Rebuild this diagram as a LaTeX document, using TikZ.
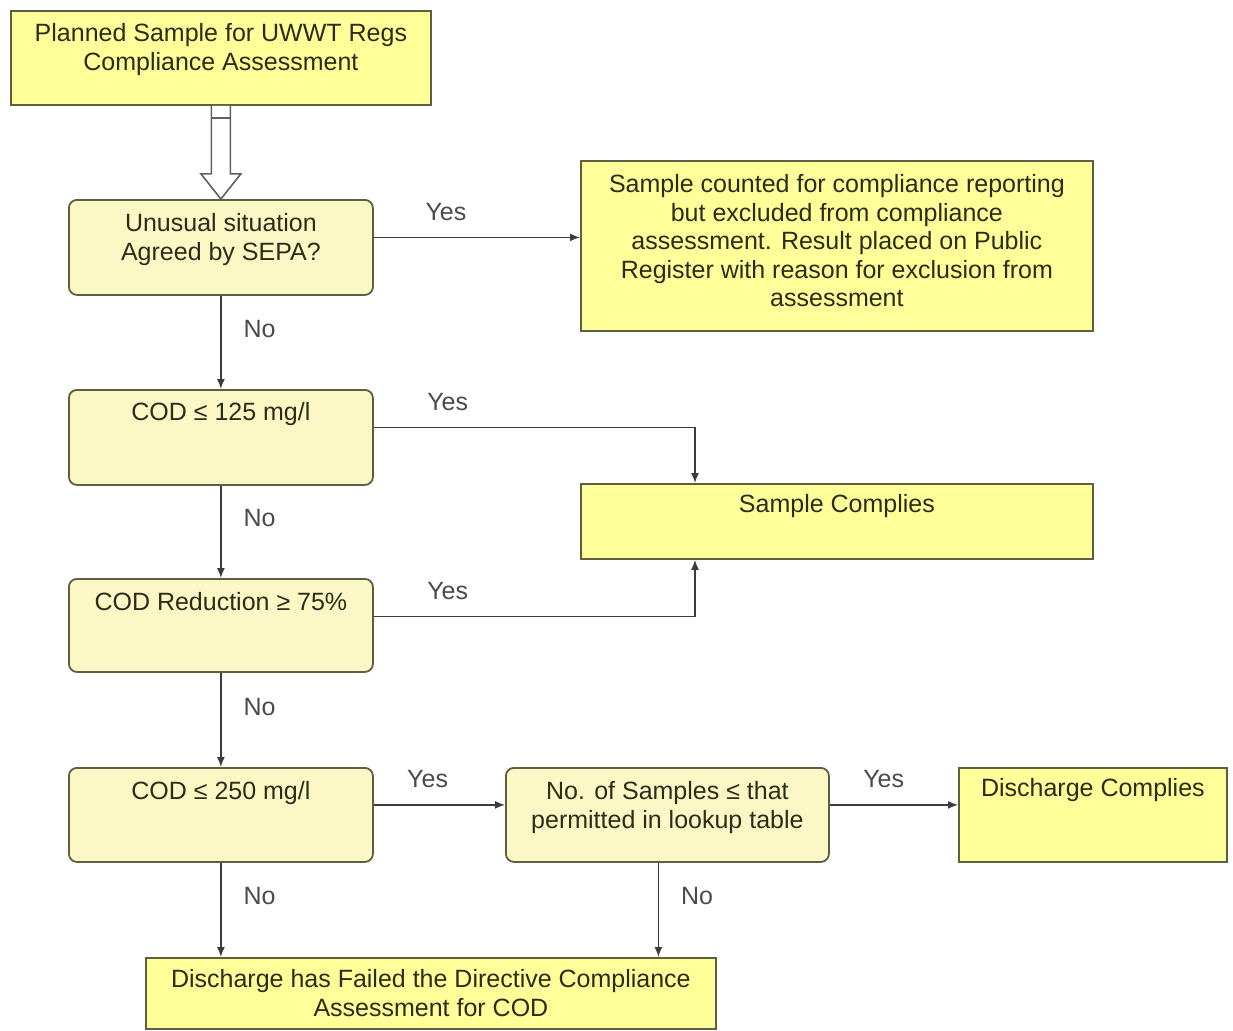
\documentclass[tikz,border=0pt]{standalone}
\usepackage{fontspec}
\setmainfont{Liberation Sans}
\usetikzlibrary{arrows.meta,calc}
\definecolor{boxyel}{HTML}{FFFF99}
\definecolor{decyel}{HTML}{FCF8C6}
\definecolor{boxline}{HTML}{5E5E40}
\definecolor{txtcol}{HTML}{2C2C18}
\definecolor{lblcol}{HTML}{4A4A4A}
\definecolor{linecol}{HTML}{3C3C3C}
\begin{document}
\begin{tikzpicture}[x=0.5pt,y=-0.5pt,
  every node/.style={font=\fontsize{12.5}{14.2}\selectfont,text=txtcol,inner sep=0pt,align=center},
  outbox/.style={draw=boxline,line width=0.9pt,fill=boxyel,text height=15.5pt,anchor=north west},
  testbox/.style={outbox,fill=decyel,rounded corners=4pt,minimum width=152pt},
  lbl/.style={text=lblcol},
  flow/.style={draw=linecol,line width=0.75pt,-{Latex[length=5pt,width=4pt]}}]
\useasboundingbox (0,0) rectangle (1233,1030);
% boxes
\node[outbox,minimum width=210pt,text height=29.7pt,text depth=17.3pt] (start) at (10,10) {Planned Sample for UWWT Regs\\Compliance Assessment};
\node[testbox,text height=30.2pt,text depth=17.3pt] (q1) at (68,199) {Unusual situation\\Agreed by SEPA?};
\node[outbox,minimum width=256pt,text height=72.8pt,text depth=12.2pt] (excl) at (580,160) {Sample counted for compliance reporting\\but excluded from compliance\\assessment. Result placed on Public\\Register with reason for exclusion from\\assessment};
\node[testbox,text depth=32pt] (q2) at (68,389) {COD ≤ 125 mg/l};
\node[outbox,minimum width=256pt,text height=14.5pt,text depth=23pt] (ok) at (580,483) {Sample Complies};
\node[testbox,text height=16pt,text depth=30.5pt] (q3) at (68,578) {COD Reduction ≥ 75\%};
\node[testbox,text height=16pt,text depth=31pt] (q4) at (68,767) {COD ≤ 250 mg/l};
\node[testbox,minimum width=161.5pt,text height=30.2pt,text depth=16.8pt] (q5) at (505,767) {No. of Samples ≤ that\\permitted in lookup table};
\node[outbox,minimum width=134pt,text height=14.5pt,text depth=32.5pt] (done) at (958,767) {Discharge Complies};
\node[outbox,minimum width=285pt,text height=29.2pt,text depth=6.3pt] (fail) at (145,957) {Discharge has Failed the Directive Compliance\\Assessment for COD};
% hollow arrow
\draw[draw=gray!75!black,fill=white,line width=0.8pt] ($(start.south)+(-9.5,0)$) -- ($(start.south)+(-9.5,68)$) -- ($(start.south)+(-20,68)$) -- (q1.north) -- ($(start.south)+(20,68)$) -- ($(start.south)+(9.5,68)$) -- ($(start.south)+(9.5,0)$);
\draw[draw=gray!75!black,line width=0.8pt] ($(start.south)+(-9.5,12)$) -- ($(start.south)+(9.5,12)$);
% connectors
\coordinate (q1out) at ($(q1.east)+(0,-10)$);
\coordinate (q2out) at ($(q2.east)+(0,-10)$);
\coordinate (q3out) at ($(q3.east)+(0,-9)$);
\coordinate (q4out) at ($(q4.east)+(0,-10)$);
\coordinate (q5out) at ($(q5.east)+(0,-10)$);
\coordinate (okin) at ($(ok.north west)+(115,0)$);
\coordinate (okup) at ($(ok.south west)+(115,0)$);
\coordinate (q5down) at ($(q5.south)+(-9,0)$);
\draw[flow] (q1out) -- node[lbl,pos=.35,above=8pt]{Yes} (q1out -| excl.west);
\draw[flow] (q2out) -- node[lbl,pos=.23,above=8pt]{Yes} (q2out -| okin) -- (okin);
\draw[flow] (q3out) -- node[lbl,pos=.23,above=8pt]{Yes} (q3out -| okup) -- (okup);
\draw[flow] (q4out) -- node[lbl,pos=.41,above=8pt]{Yes} (q4out -| q5.west);
\draw[flow] (q5out) -- node[lbl,pos=.42,above=8pt]{Yes} (q5out -| done.west);
\draw[flow] (q1.south) -- node[lbl,pos=.36,right=11pt]{No} (q2.north);
\draw[flow] (q2.south) -- node[lbl,pos=.35,right=11pt]{No} (q3.north);
\draw[flow] (q3.south) -- node[lbl,pos=.36,right=11pt]{No} (q4.north);
\draw[flow] (q4.south) -- node[lbl,pos=.35,right=11pt]{No} (q4.south |- fail.north);
\draw[flow] (q5down) -- node[lbl,pos=.35,right=11pt]{No} (q5down |- fail.north);
\end{tikzpicture}
\end{document}
